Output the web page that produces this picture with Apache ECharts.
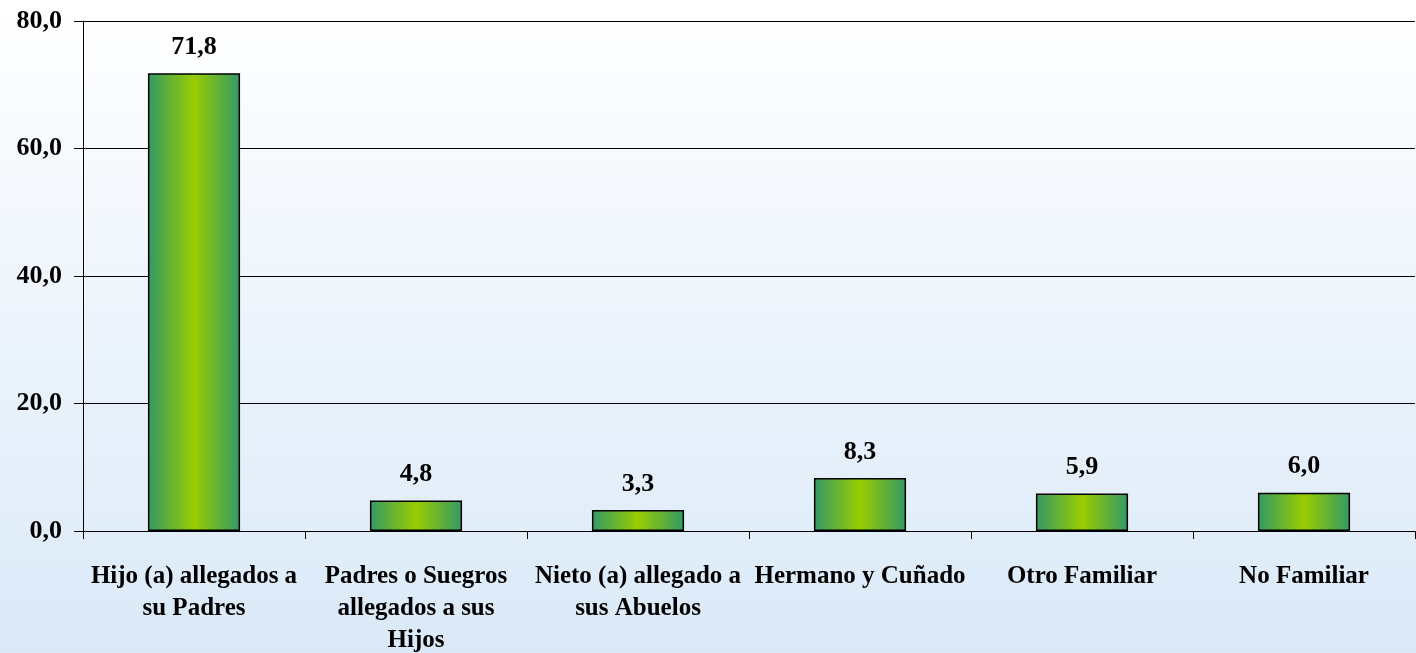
<!DOCTYPE html>
<html>
<head>
<meta charset="utf-8">
<script src="https://cdn.jsdelivr.net/npm/echarts@6/dist/echarts.min.js"></script>
<style>
  html, body { margin: 0; padding: 0; }
  #chart { width: 1416px; height: 653px; }
</style>
</head>
<body>
<div id="chart"></div>
<script>
const categories = [
  'Hijo (a) allegados a\nsu Padres',
  'Padres o Suegros\nallegados a sus\nHijos',
  'Nieto (a) allegado a\nsus Abuelos',
  'Hermano y Cuñado',
  'Otro Familiar',
  'No Familiar'
];
const values = [71.8, 4.8, 3.3, 8.3, 5.9, 6.0];
const yTicks = [0, 20, 40, 60, 80];

const fmt = v => v.toFixed(1).replace('.', ',');

const myChart = echarts.init(document.getElementById('chart'));

const font = { fontFamily: '"Liberation Serif", "Times New Roman", serif', fontWeight: 'bold', color: '#000' };

const option = {
  backgroundColor: {
    type: 'linear', x: 0, y: 0, x2: 0, y2: 1,
    colorStops: [
      { offset: 0, color: '#ffffff' },
      { offset: 1, color: '#dae9f8' }
    ]
  },
  animation: false,
  grid: {
    left: 83,
    right: 1,
    top: 21,
    bottom: 122,
    outerBoundsMode: 'none' // keep the plot box fixed, labels may reach the edge
  },
  xAxis: {
    type: 'category',
    data: categories,
    axisLine: { show: true, lineStyle: { color: '#000', width: 1 } },
    axisTick: { show: true, alignWithLabel: false, length: 8, lineStyle: { color: '#000' } },
    axisLabel: { ...font, fontSize: 25, lineHeight: 32, margin: 30, interval: 0 }
  },
  yAxis: {
    type: 'value',
    min: yTicks[0],
    max: yTicks[yTicks.length - 1],
    interval: 20,
    axisLine: { show: true, lineStyle: { color: '#000', width: 1 } },
    axisTick: { show: true, length: 9, lineStyle: { color: '#000' } },
    axisLabel: { ...font, fontSize: 26, margin: 21, formatter: v => fmt(v) },
    splitLine: { show: true, lineStyle: { color: '#000', width: 1 } }
  },
  series: [
    {
      type: 'bar',
      data: values,
      barWidth: '41.5%',
      itemStyle: {
        color: {
          type: 'linear', x: 0, y: 0, x2: 1, y2: 0,
          colorStops: [
            { offset: 0, color: '#339966' },
            { offset: 0.5, color: '#99cc00' },
            { offset: 1, color: '#339966' }
          ]
        },
        borderColor: '#000',
        borderWidth: 1.5
      },
      label: {
        show: true,
        position: 'top',
        distance: 13,
        ...font,
        fontSize: 26,
        formatter: p => fmt(p.value)
      }
    }
  ]
};

myChart.setOption(option);

window.addEventListener('resize', () => {
  myChart.resize();
});
</script>
</body>
</html>
